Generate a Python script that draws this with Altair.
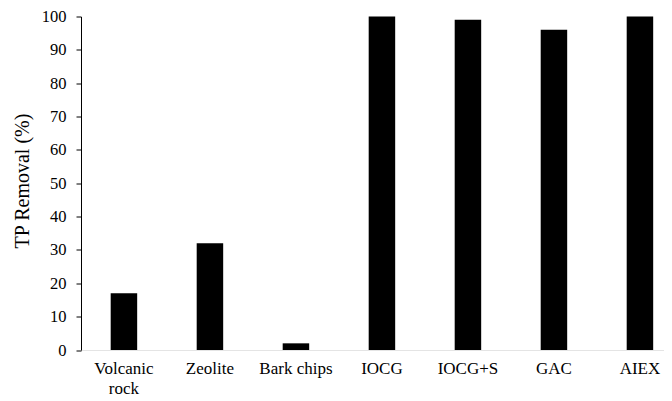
import altair as alt
import pandas as pd

categories = ["Volcanic rock", "Zeolite", "Bark chips", "IOCG", "IOCG+S", "GAC", "AIEX"]
values = [17, 32, 2, 100, 99, 96, 100]
y_ticks = list(range(0, 101, 10))

df = pd.DataFrame({"material": categories, "removal": values})

font = "Liberation Serif"

chart = alt.Chart(df).mark_bar(color="black").encode(
    x=alt.X(
        "material:N",
        sort=categories,
        title=None,
        scale=alt.Scale(paddingInner=0.692, paddingOuter=0.2355, align=0.733),
        axis=alt.Axis(
            labelAngle=0,
            ticks=False,
            domainColor="#c8c8c8",
            domainDash=[1, 1],
            labelFont=font,
            labelFontSize=17,
            labelColor="black",
            labelPadding=10,
            labelLineHeight=20,
            labelExpr="datum.label == 'Volcanic rock' ? ['Volcanic', 'rock'] : datum.label",
        ),
    ),
    y=alt.Y(
        "removal:Q",
        title="TP Removal (%)",
        scale=alt.Scale(domain=[0, 100], nice=False),
        axis=alt.Axis(
            values=y_ticks,
            grid=False,
            domainColor="black",
            tickColor="black",
            tickSize=5,
            labelFont=font,
            labelFontSize=16.5,
            labelColor="black",
            labelPadding=10,
            titleFont=font,
            titleFontSize=20,
            titleFontWeight="normal",
            titleColor="black",
            titleBaseline="middle",
            titleAlign="center",
            titleX=-58.5,
            titleY=164,
        ),
    ),
).properties(
    width=583,
    height=333.5,
    autosize=alt.AutoSizeParams(type="none"),
    padding={"left": 73, "top": 8.5, "right": 0, "bottom": 48},
).configure_view(stroke=None)

chart.save("out.html", embed_options={"renderer": "svg", "actions": False})
